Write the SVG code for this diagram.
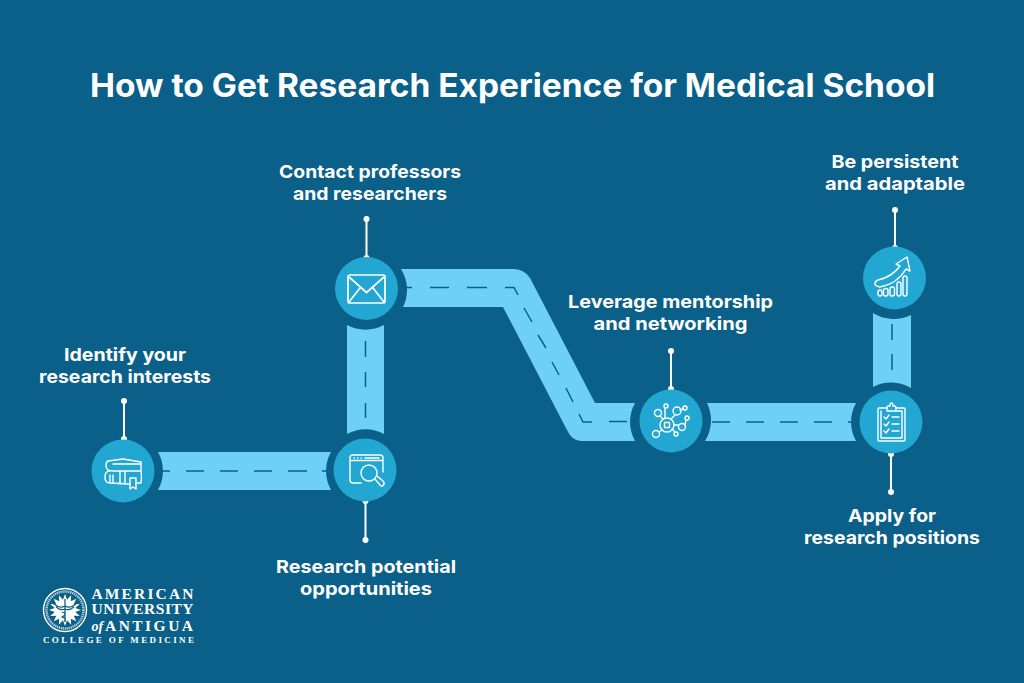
<svg xmlns="http://www.w3.org/2000/svg" width="1024" height="683" viewBox="0 0 1024 683">
<style>
.road{fill:#6fd0f7}
.dash{fill:none;stroke:#0b6089;stroke-width:1.500}
.lead{stroke:#fff;stroke-width:2;fill:none}
.dot{fill:#fff}
.disc{fill:#22a6d2}
.ic{fill:none;stroke:#fff;stroke-width:1.400;stroke-linejoin:round;stroke-linecap:round}
.lb{font-family:Inter,"Liberation Sans",sans-serif;font-weight:700;font-size:18px;fill:#fff;text-anchor:middle}
.title{font-family:Inter,"Liberation Sans",sans-serif;font-weight:700;font-size:32px;fill:#fff;text-anchor:middle}
.lg{font-family:"Liberation Serif",serif;fill:#fff;font-weight:700}
</style>
<rect width="1024" height="683" fill="#0b6089"/>
<text class="title" x="512.5" y="97" textLength="845" lengthAdjust="spacingAndGlyphs">How to Get Research Experience for Medical School</text>
<g id="connectors">
<path class="road" d="M158 452H331A39 39 0 0 0 331 490H158A39 39 0 0 0 158 452Z"/>
<path class="road" d="M347 325A39 39 0 0 0 384 325V434A39 39 0 0 0 347 434Z"/>
<path class="road" d="M401 269H513Q524 269 530 278L595 403H635A39 39 0 0 0 635 441H581Q572 441 567 430L503 307H403A39 39 0 0 0 401 269Z"/>
<path class="road" d="M707 403H856A39 39 0 0 0 856 441H705A39 39 0 0 0 707 403Z"/>
<path class="road" d="M873 313A39 39 0 0 0 911 315V388A39 39 0 0 0 873 387Z"/>
<path class="dash" d="M162 471H170M186 471H204M220 471H238M254 471H272M288 471H307M322 471H327"/>
<path class="dash" d="M365.500 341V357M365.500 372V387M365.500 403V418"/>
<path class="dash" d="M405 287.500H412M430 287.500H449M467 287.500H487M505 287.500H514L518 295M524 308L532 322M538 335L546 348M552 362L559 375M566 388L573 402M579 414L583 422H592M609 421.500H627"/>
<path class="dash" d="M712 422H730M746 422H764M780 422H798M814 422H832M848 422H852"/>
<path class="dash" d="M892 324V340M892 354V370"/>
<path class="lead" d="M124 401V439M366.500 219V258M365.500 501V540M671 351V389M891 452V492M895 210V248"/>
<g class="dot"><circle cx="124" cy="401" r="3"/><circle cx="124" cy="439" r="3"/><circle cx="366.500" cy="219" r="3"/><circle cx="366.500" cy="258" r="3"/><circle cx="365.500" cy="501" r="3"/><circle cx="365.500" cy="540" r="3"/><circle cx="671" cy="351" r="3"/><circle cx="671" cy="389" r="3"/><circle cx="891" cy="454" r="3"/><circle cx="891" cy="492" r="3"/><circle cx="895" cy="210" r="3"/><circle cx="895" cy="248" r="3"/></g>
</g>
<g id="node-identify">
<circle class="disc" cx="123" cy="471" r="31.500"/>
<path class="ic" d="M108 461L123 459L141 462V471H113Q106 471 106 466Q106 462 108 461ZM113 464H141M141 471Q142 477 141 483H136M130 484L110 483Q105 483 105 477Q105 471 110 471M110 475V483M113 475V483M120 471V484M125 471V484"/>
<path class="ic" d="M130 478V489L133 487L136 489V478Z"/>
<text class="lb" x="125" y="361" textLength="122" lengthAdjust="spacingAndGlyphs">Identify your</text>
<text class="lb" x="125" y="383" textLength="172" lengthAdjust="spacingAndGlyphs">research interests</text>
</g>
<g id="node-potential">
<circle class="disc" cx="365" cy="470" r="31.500"/>
<path class="ic" d="M361 483H353Q350 483 350 480V458Q350 455 353 455H380Q383 455 383 458V472M350 460.500H383M365 458H379M354 458H354.500M357.500 458H358M361 458H361.500"/>
<circle class="ic" cx="369" cy="473" r="8"/>
<path class="ic" d="M375 479L380 485Q382 487 383.500 485Q385 483 383 481L377 476"/>
<text class="lb" x="366" y="573" textLength="180" lengthAdjust="spacingAndGlyphs">Research potential</text>
<text class="lb" x="366" y="595" textLength="132" lengthAdjust="spacingAndGlyphs">opportunities</text>
</g>
<g id="node-contact">
<circle class="disc" cx="366.500" cy="288.500" r="31.500"/>
<rect x="348" y="275" width="37" height="28" rx="2" fill="none" stroke="#fff" stroke-width="1.700"/>
<path fill="none" stroke="#fff" stroke-width="1.700" d="M349 277L366.500 292.500L384 277M349 302L360 288M384 302L373 288"/>
<text class="lb" x="370" y="178" textLength="182" lengthAdjust="spacingAndGlyphs">Contact professors</text>
<text class="lb" x="370" y="200" textLength="154" lengthAdjust="spacingAndGlyphs">and researchers</text>
</g>
<g id="node-mentorship">
<circle class="disc" cx="671" cy="421" r="31.500"/>
<g class="ic"><circle cx="667" cy="425" r="7"/><rect x="664.500" y="422.500" width="5" height="5"/><circle cx="658" cy="413" r="3.500"/><circle cx="666" cy="406" r="2"/><circle cx="677" cy="411" r="4"/><circle cx="685" cy="408" r="2"/><circle cx="687" cy="418" r="2"/><circle cx="682" cy="427" r="3.500"/><circle cx="676" cy="434" r="2"/><circle cx="656" cy="434" r="3.500"/>
<path d="M663 419L660 416M665 418V408M671 419L675 415M680 410L683 409M674 425H678.500M685 425L686 420M672 429L675 432M662 430L659 432"/></g>
<text class="lb" x="670.500" y="308" textLength="205" lengthAdjust="spacingAndGlyphs">Leverage mentorship</text>
<text class="lb" x="670.500" y="330" textLength="154" lengthAdjust="spacingAndGlyphs">and networking</text>
</g>
<g id="node-apply">
<circle class="disc" cx="891" cy="422" r="31.500"/>
<g class="ic"><path d="M887 408H879Q878 408 878 409V440Q878 441 879 441H904Q905 441 905 440V409Q905 408 904 408H896M881 411V438H902V411H896"/><path d="M887 411V407Q887 406 889 406H890Q890 403 891.500 403Q893 403 893 406H894Q896 406 896 407V411Z"/><path d="M884 417L886 419L889 415M884 424L886 426L889 422M884 431L886 433L889 429M892 417H899M892 424H899M892 431H899"/></g>
<text class="lb" x="892" y="522" textLength="88" lengthAdjust="spacingAndGlyphs">Apply for</text>
<text class="lb" x="892" y="544" textLength="176" lengthAdjust="spacingAndGlyphs">research positions</text>
</g>
<g id="node-persistent">
<circle class="disc" cx="894.500" cy="278" r="31.500"/>
<g class="ic"><path d="M878 280Q892 277 900 266L896 264L907 257L910 271L906 269Q897 284 880 287Q875 286 875 284Q875 281 878 280Z"/><rect x="878" y="290" width="4" height="6" rx="2"/><rect x="883.500" y="288.500" width="4.500" height="7.500" rx="2"/><rect x="890" y="287" width="4.500" height="9" rx="2"/><rect x="897" y="282" width="4" height="14" rx="2"/><rect x="903" y="276" width="4" height="20" rx="2"/></g>
<text class="lb" x="895" y="168" textLength="127" lengthAdjust="spacingAndGlyphs">Be persistent</text>
<text class="lb" x="895" y="190" textLength="140" lengthAdjust="spacingAndGlyphs">and adaptable</text>
</g>
<g id="logo">
<circle cx="65" cy="610" r="21.500" fill="none" stroke="#fff" stroke-width="1.400"/>
<circle cx="65" cy="610" r="18.500" fill="none" stroke="#fff" stroke-width="2.500" stroke-dasharray="1.200 0.800" opacity="0.750"/>
<polygon transform="translate(65 610)" fill="#fff" points="16,0 10.300,2.050 14.780,6.120 8.730,5.830 11.310,11.310 5.830,8.730 6.120,14.780 2.050,10.300 0,16 -2.050,10.300 -6.120,14.780 -5.830,8.730 -11.310,11.310 -8.730,5.830 -14.780,6.120 -10.300,2.050 -16,0 -10.300,-2.050 -14.780,-6.120 -8.730,-5.830 -11.310,-11.310 -5.830,-8.730 -6.120,-14.780 -2.050,-10.300 0,-16 2.050,-10.300 6.120,-14.780 5.830,-8.730 11.310,-11.310 8.730,-5.830 14.780,-6.120 10.300,-2.050"/>
<path fill="none" stroke="#0b6089" stroke-width="1.300" d="M65 599V622M54 604Q60 609 65 606Q70 609 76 604M56 607Q61 611 65 609Q69 611 74 607M62 612Q68 614 62 617Q68 619 64 621"/>
<text class="lg" x="91.500" y="598.500" font-size="15.500" textLength="102" lengthAdjust="spacing">AMERICAN</text>
<text class="lg" x="91.500" y="614" font-size="15.500" textLength="102" lengthAdjust="spacing">UNIVERSITY</text>
<text class="lg" x="91.500" y="630.500" font-size="14" font-style="italic">of</text>
<text class="lg" x="105" y="630.500" font-size="15.500" textLength="88" lengthAdjust="spacing">ANTIGUA</text>
<text class="lg" x="43" y="643" font-size="9" textLength="151" lengthAdjust="spacing">COLLEGE OF MEDICINE</text>
</g>
</svg>
